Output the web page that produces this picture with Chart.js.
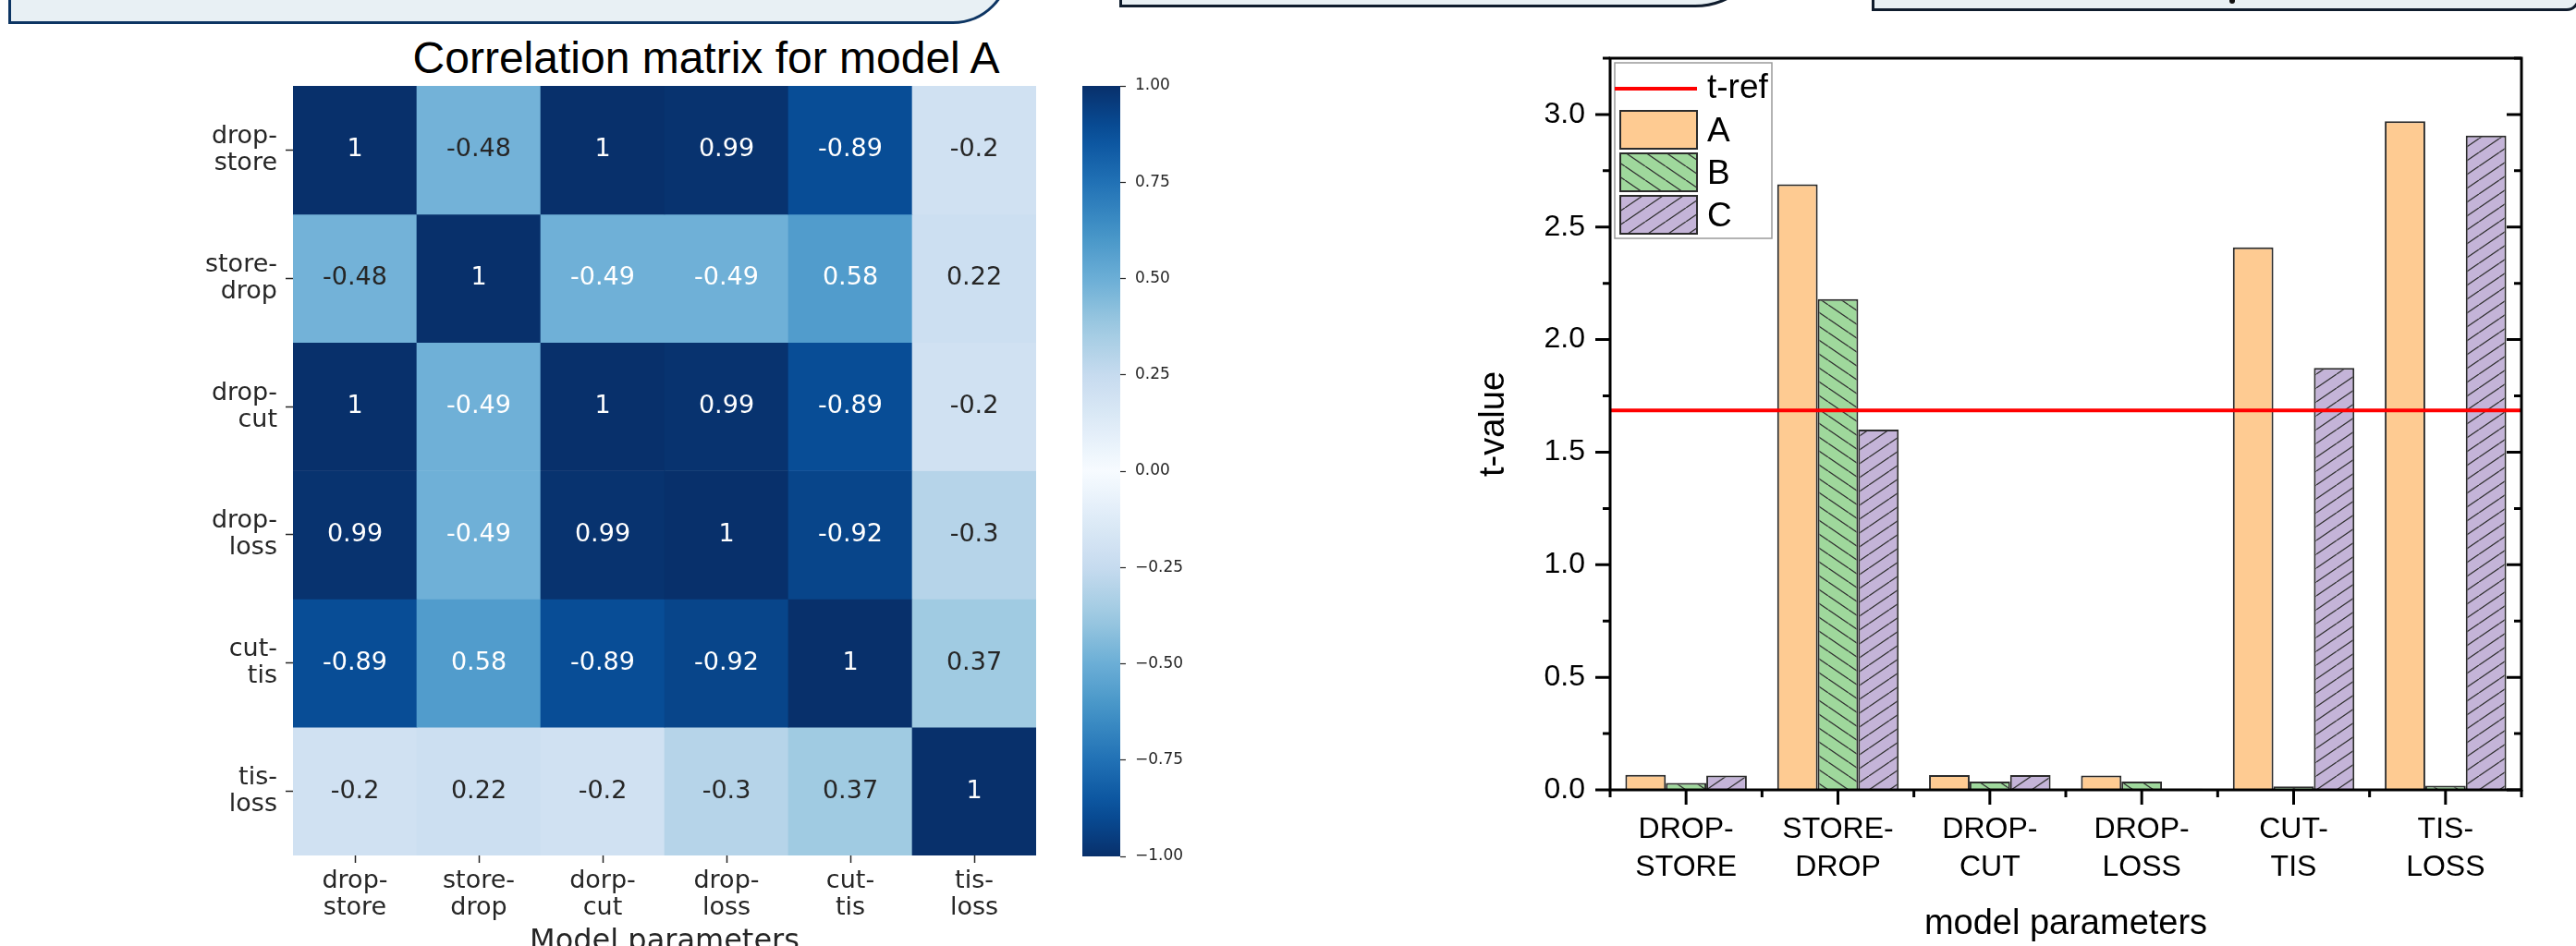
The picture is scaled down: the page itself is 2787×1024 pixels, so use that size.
<!DOCTYPE html>
<html lang="en">
<head>
<meta charset="UTF-8">
<title>Correlation matrix and t-values</title>
<script src="https://cdn.jsdelivr.net/npm/chart.js"></script>
<style>
    html, body { margin: 0; padding: 0; }
    body { width: 2787px; height: 1024px; overflow: hidden; background: #fff; position: relative; }
    .panel { position: absolute; box-sizing: border-box; background: #e8f0f4; border: 3px solid #0f1c2d; }
    #box1 { left: 9px; top: -100px; width: 1084px; height: 126px; border-color: #0d3563; border-bottom-right-radius: 62px; }
    #box2 { left: 1211px; top: -150px; width: 703px; height: 158px; border-bottom-right-radius: 80px; }
    #box3 { left: 2025px; top: -100px; width: 766px; height: 112px; border-bottom-right-radius: 14px; }
    #mark { position: absolute; left: 2412px; top: 0; width: 6px; height: 4px; background: #111; border-radius: 0 0 3px 3px; }
    canvas { position: absolute; top: 0; }
    #heatTitle { position: absolute; left: 364px; width: 800px; top: 39px; text-align: center;
        font: 48px 'Liberation Sans', Arial, sans-serif; line-height: 48px; color: #000; white-space: nowrap; }
</style>
</head>
<body>

<div class="panel" id="box1"></div>
<div class="panel" id="box2"></div>
<div class="panel" id="box3"></div>
<div id="mark"></div>

<div id="heatTitle">Correlation matrix for model A</div>
<canvas id="heat" width="1160" height="1060" style="left:0px"></canvas>
<canvas id="cbar" width="150" height="1024" style="left:1160px"></canvas>
<canvas id="bars" width="1227" height="1024" style="left:1560px"></canvas>

<script>
// ---- heatmap data ----
var paramLabels = ['drop-store', 'store-drop', 'drop-cut', 'drop-loss', 'cut-tis', 'tis-loss'];
var colLabels = ['drop-store', 'store-drop', 'dorp-cut', 'drop-loss', 'cut-tis', 'tis-loss'];
var rowDropStore = [1, -0.48, 1, 0.99, -0.89, -0.2];
var rowStoreDrop = [-0.48, 1, -0.49, -0.49, 0.58, 0.22];
var rowDropCut = [1, -0.49, 1, 0.99, -0.89, -0.2];
var rowDropLoss = [0.99, -0.49, 0.99, 1, -0.92, -0.3];
var rowCutTis = [-0.89, 0.58, -0.89, -0.92, 1, 0.37];
var rowTisLoss = [-0.2, 0.22, -0.2, -0.3, 0.37, 1];
var corrRows = [rowDropStore, rowStoreDrop, rowDropCut, rowDropLoss, rowCutTis, rowTisLoss];

var cbarMin = -1, cbarMax = 1, cbarStep = 0.25;

// ---- t-value data ----
var barCategories = ['DROP-STORE', 'STORE-DROP', 'DROP-CUT', 'DROP-LOSS', 'CUT-TIS', 'TIS-LOSS'];
var tA = [0.067, 2.69, 0.066, 0.064, 2.41, 2.97];
var tB = [0.031, 2.18, 0.037, 0.037, 0.015, 0.018];
var tC = [0.064, 1.60, 0.066, 0.005, 1.874, 2.906];
var tRef = 1.686;
var tMin = 0, tMax = 3.25, tStep = 0.25;

Chart.defaults.animation = false;
Chart.defaults.responsive = false;
Chart.defaults.devicePixelRatio = 1;
Chart.defaults.plugins.legend.display = false;
Chart.defaults.plugins.tooltip.enabled = false;

// matplotlib "Blues"
var bluesStops = [[247,251,255],[222,235,247],[198,219,239],[158,202,225],[107,174,214],
                  [66,146,198],[33,113,181],[8,81,156],[8,48,107]];
function blues(t) {
    t = Math.max(0, Math.min(1, t));
    var p = t * 8, i = Math.min(7, Math.floor(p)), f = p - i;
    var a = bluesStops[i], b = bluesStops[i + 1];
    return a.map(function (c, k) { return Math.round(c + (b[k] - c) * f); });
}
function rgb(c) { return 'rgb(' + c.join(',') + ')'; }
function luminance(c) {
    var l = c.map(function (v) {
        v /= 255;
        return v <= 0.03928 ? v / 12.92 : Math.pow((v + 0.055) / 1.055, 2.4);
    });
    return 0.2126 * l[0] + 0.7152 * l[1] + 0.0722 * l[2];
}
function twoLines(s) {
    var i = s.indexOf('-');
    return [s.slice(0, i + 1), s.slice(i + 1)];
}

var dejavu = "'DejaVu Sans'";
var arial = "'Liberation Sans'";

// numbers written in the middle of each cell
var cellText = {
    id: 'cellText',
    afterDatasetsDraw: function (chart) {
        var ctx = chart.ctx;
        ctx.save();
        ctx.font = '27px ' + dejavu;
        ctx.textAlign = 'center';
        ctx.textBaseline = 'middle';
        chart.data.datasets.forEach(function (ds, r) {
            chart.getDatasetMeta(r).data.forEach(function (bar, c) {
                var v = corrRows[r][c];
                ctx.fillStyle = luminance(blues(Math.abs(v))) > 0.4 ? '#262626' : '#ffffff';
                ctx.fillText(String(v), bar.x, (bar.y + bar.base) / 2);
            });
        });
        ctx.restore();
    }
};

new Chart(document.getElementById('heat'), {
    type: 'bar',
    data: {
        labels: colLabels.map(twoLines),
        datasets: corrRows.map(function (row, r) {
            return {
                label: paramLabels[r],
                data: row.map(function () { return 1; }),
                backgroundColor: row.map(function (v) { return rgb(blues(Math.abs(v))); }),
                borderWidth: 0,
                barPercentage: 1,
                categoryPercentage: 1
            };
        })
    },
    options: {
        layout: { padding: { top: 93, right: 39, left: 0, bottom: 0 } },
        scales: {
            x: {
                stacked: true,
                grid: { offset: false, drawOnChartArea: false, tickLength: 8, tickColor: '#262626', tickWidth: 1.5 },
                border: { display: false },
                ticks: { color: '#262626', font: { family: dejavu, size: 27, lineHeight: 1.07 },
                         padding: 6, maxRotation: 0, autoSkip: false },
                title: { display: true, text: 'Model parameters', color: '#262626',
                         font: { family: dejavu, size: 32 }, padding: { top: 0, bottom: 21 } },
                afterFit: function (s) { s.height = 134; }
            },
            y: {
                stacked: true,
                reverse: true,
                min: 0,
                max: 6,
                afterBuildTicks: function (s) {
                    s.ticks = paramLabels.map(function (_, i) { return { value: i + 0.5 }; });
                },
                grid: { drawOnChartArea: false, tickLength: 8, tickColor: '#262626', tickWidth: 1.5 },
                border: { display: false },
                ticks: {
                    color: '#262626',
                    font: { family: dejavu, size: 27, lineHeight: 1.07 },
                    padding: 9,
                    autoSkip: false,
                    callback: function (v) { return twoLines(paramLabels[Math.floor(v)]); }
                },
                afterFit: function (s) { s.width = 317; }
            }
        }
    },
    plugins: [cellText]
});

// colour bar
function cbarGradient(ctx) {
    var area = ctx.chart.chartArea;
    if (!area) return null;
    var g = ctx.chart.ctx.createLinearGradient(0, area.bottom, 0, area.top);
    for (var k = 0; k <= 40; k++) {
        var v = cbarMin + (cbarMax - cbarMin) * k / 40;
        g.addColorStop(k / 40, rgb(blues(Math.abs(v))));
    }
    return g;
}

new Chart(document.getElementById('cbar'), {
    type: 'bar',
    data: {
        labels: [''],
        datasets: [{ data: [[cbarMin, cbarMax]], backgroundColor: cbarGradient, borderWidth: 0,
                     barPercentage: 1, categoryPercentage: 1 }]
    },
    options: {
        layout: { padding: { left: 11, top: 93, bottom: 97, right: 0 } },
        scales: {
            x: { display: false },
            y: {
                position: 'right',
                min: cbarMin,
                max: cbarMax,
                grid: { drawOnChartArea: false, tickLength: 6, tickColor: '#262626', tickWidth: 1.2 },
                border: { display: false },
                ticks: {
                    stepSize: cbarStep,
                    padding: 10,
                    color: '#262626',
                    font: { family: dejavu, size: 17 },
                    callback: function (v) { return (v < 0 ? '\u2212' : '') + Math.abs(v).toFixed(2); }
                },
                afterFit: function (s) { s.width = 98; }
            }
        }
    }
});

// t-value bars
var barsCtx = document.getElementById('bars').getContext('2d');
var refColor = '#ff0000', refWidth = 4;

function hatch(fill, dir) {
    var w = 22, h = 15;
    var c = document.createElement('canvas');
    c.width = w; c.height = h;
    var g = c.getContext('2d');
    g.fillStyle = fill;
    g.fillRect(0, 0, w, h);
    g.strokeStyle = '#333';
    g.lineWidth = 1.3;
    g.beginPath();
    [-w, 0, w].forEach(function (dx) {
        if (dir === '/') { g.moveTo(dx, h); g.lineTo(dx + w, 0); }
        else { g.moveTo(dx, 0); g.lineTo(dx + w, h); }
    });
    g.stroke();
    return barsCtx.createPattern(c, 'repeat');
}

function isMajor(v) { return Math.abs(v * 2 - Math.round(v * 2)) < 1e-6; }

// t-ref line, ticks and the box round the plot
var frame = {
    id: 'frame',
    afterDatasetsDraw: function (chart) {
        var ctx = chart.ctx, a = chart.chartArea, x = chart.scales.x, y = chart.scales.y;
        function seg(x1, y1, x2, y2) { ctx.moveTo(x1, y1); ctx.lineTo(x2, y2); }
        ctx.save();
        var ry = y.getPixelForValue(tRef);
        ctx.strokeStyle = refColor;
        ctx.lineWidth = refWidth;
        ctx.beginPath();
        seg(a.left, ry, a.right, ry);
        ctx.stroke();

        ctx.strokeStyle = '#000';
        ctx.lineWidth = 3;
        ctx.beginPath();
        y.ticks.forEach(function (t) {
            var py = y.getPixelForValue(t.value), len = isMajor(t.value) ? 16 : 8;
            seg(a.left - len, py, a.left, py);
            seg(a.right - len, py, a.right, py);
        });
        var n = barCategories.length;
        for (var i = 0; i < n; i++) {
            var px = x.getPixelForValue(i);
            seg(px, a.bottom, px, a.bottom + 16);
        }
        for (var j = 0; j <= n; j++) {
            var bx = j === 0 ? a.left : j === n ? a.right
                : (x.getPixelForValue(j - 1) + x.getPixelForValue(j)) / 2;
            seg(bx, a.bottom, bx, a.bottom + 8);
        }
        ctx.stroke();
        ctx.strokeRect(a.left, a.top, a.width, a.height);
        ctx.restore();
    }
};

var barLegend = {
    id: 'barLegend',
    afterDraw: function (chart) {
        var ctx = chart.ctx, a = chart.chartArea;
        var x0 = a.left + 5, y0 = a.top + 5;
        ctx.save();
        ctx.fillStyle = '#fff';
        ctx.fillRect(x0, y0, 170, 190);
        ctx.strokeStyle = '#9a9a9a';
        ctx.lineWidth = 1.5;
        ctx.strokeRect(x0, y0, 170, 190);
        ctx.font = '37px ' + arial;
        ctx.textBaseline = 'middle';
        ctx.textAlign = 'left';

        ctx.strokeStyle = refColor;
        ctx.lineWidth = refWidth;
        ctx.beginPath();
        ctx.moveTo(x0, y0 + 28);
        ctx.lineTo(x0 + 89, y0 + 28);
        ctx.stroke();
        ctx.fillStyle = '#000';
        ctx.fillText('t-ref', x0 + 100, y0 + 28);

        chart.data.datasets.forEach(function (ds, i) {
            var cy = y0 + 72.5 + i * 46;
            ctx.fillStyle = ds.backgroundColor;
            ctx.fillRect(x0 + 6, cy - 20.5, 83, 41);
            ctx.strokeStyle = ds.borderColor;
            ctx.lineWidth = 2;
            ctx.strokeRect(x0 + 6, cy - 20.5, 83, 41);
            ctx.fillStyle = '#000';
            ctx.fillText(ds.label, x0 + 100, cy + 2);
        });
        ctx.restore();
    }
};

var barStyle = { borderColor: '#2b2b2b', borderWidth: 2, categoryPercentage: 0.8, barPercentage: 1 };

new Chart(barsCtx, {
    type: 'bar',
    data: {
        labels: barCategories.map(twoLines),
        datasets: [
            Object.assign({ label: 'A', data: tA, backgroundColor: '#fecb92' }, barStyle),
            Object.assign({ label: 'B', data: tB, backgroundColor: hatch('#9fd89c', '\\') }, barStyle),
            Object.assign({ label: 'C', data: tC, backgroundColor: hatch('#c4b4d8', '/') }, barStyle)
        ]
    },
    options: {
        layout: { padding: { top: 63, right: 59, left: 0, bottom: 0 } },
        scales: {
            x: {
                grid: { display: false, drawTicks: false },
                border: { display: false },
                ticks: { color: '#000', font: { family: arial, size: 32, lineHeight: 1.28 },
                         padding: 23, maxRotation: 0, autoSkip: false },
                title: { display: true, text: 'model parameters', color: '#000',
                         font: { family: arial, size: 38 }, padding: { top: 0, bottom: 1 } },
                afterFit: function (s) { s.height = 169; }
            },
            y: {
                min: tMin,
                max: tMax,
                grid: { display: false, drawTicks: false },
                border: { display: false },
                ticks: {
                    stepSize: tStep,
                    autoSkip: false,
                    padding: 27,
                    color: '#000',
                    font: { family: arial, size: 32 },
                    callback: function (v) { return isMajor(v) ? v.toFixed(1) : ''; }
                },
                title: { display: true, text: 't-value', color: '#000',
                         font: { family: arial, size: 38 }, padding: { top: 34, bottom: 0 } },
                afterFit: function (s) { s.width = 182; }
            }
        }
    },
    plugins: [frame, barLegend]
});
</script>

</body>
</html>
